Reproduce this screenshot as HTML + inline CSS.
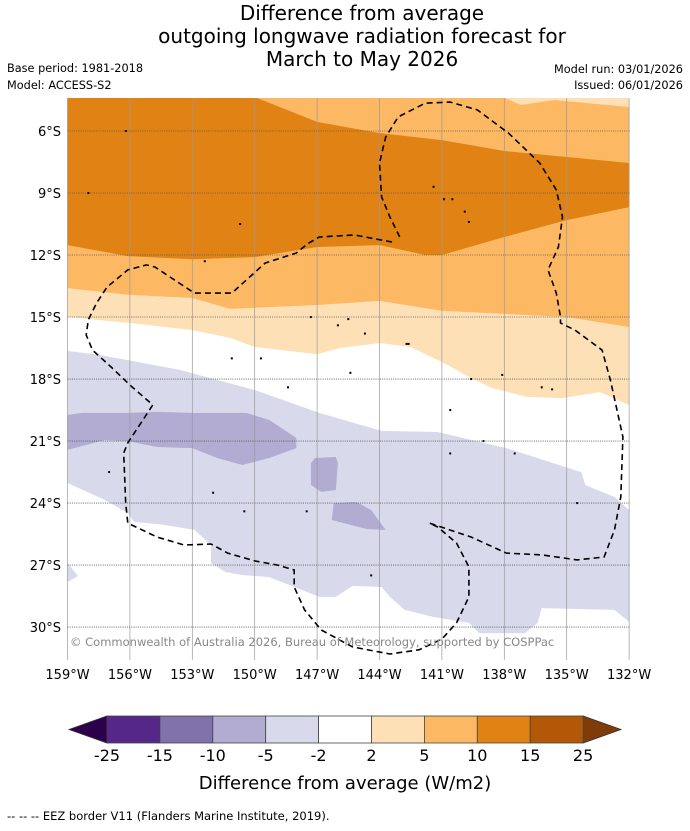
<!DOCTYPE html>
<html><head><meta charset="utf-8">
<style>
html,body{margin:0;padding:0;background:#fff;}
body{width:690px;height:827px;overflow:hidden;font-family:"DejaVu Sans","Liberation Sans",sans-serif;}
svg text{font-family:"DejaVu Sans","Liberation Sans",sans-serif;}
</style></head>
<body>
<svg id="c" width="690" height="827" viewBox="0 0 690 827" xmlns="http://www.w3.org/2000/svg">
<g font-size="20" text-anchor="middle" fill="#000">
<text x="362" y="20">Difference from average</text>
<text x="362" y="43">outgoing longwave radiation forecast for</text>
<text x="362" y="66">March to May 2026</text>
</g>
<text x="7" y="72" font-size="11.3">Base period: 1981-2018</text>
<text x="7" y="89" font-size="11.3">Model: ACCESS-S2</text>
<text x="683" y="73" font-size="11.3" text-anchor="end">Model run: 03/01/2026</text>
<text x="683" y="89" font-size="11.3" text-anchor="end">Issued: 06/01/2026</text>
<defs><clipPath id="mc"><rect x="67.5" y="98" width="562" height="559"/></clipPath></defs>
<g id="map" clip-path="url(#mc)"></g>
<g id="grid"></g>
<g id="eez"></g>
<text x="70" y="646" font-size="11.5" fill="#888">© Commonwealth of Australia 2026, Bureau of Meteorology, supported by COSPPac</text>
<g id="ticks"></g>
<g id="cbar"></g>
<text x="345" y="789" font-size="18" text-anchor="middle">Difference from average (W/m2)</text>
<text x="7" y="820" font-size="11.5">--  --  -- EEZ border V11 (Flanders Marine Institute, 2019).</text>
</svg>
<script>
// data: contour boundaries as [lonW, latS]
const darkOrangeTop=[[159,4.4],[149.9,4.4],[147,5.56],[144,6.1],[141,6.44],[138,6.97],[135,7.26],[132,7.55]];
const darkOrangeBottom=[[132,9.68],[135,10.31],[138,11.13],[141,12.0],[141.8,12.0],[144,11.52],[147,11.61],[150,12.1],[153,12.2],[156.1,12.05],[159,11.52]];
const tanTop=[[159,13.6],[156,13.93],[153,14.08],[151.2,14.6],[147,14.42],[144,14.22],[141,14.7],[138,14.85],[135,15.0],[132,15.48]];
const whiteTop=[[159,15.0],[156,15.29],[153,15.63],[151.2,16.0],[150,16.45],[147,16.8],[145.9,16.5],[144,16.26],[142.5,16.45],[141,17.18],[140.3,17.56],[139.7,17.9],[138.6,18.43],[136.9,18.87],[135.2,18.92],[133.4,18.63],[132,19.26]];
const tanCorner=[[138,4.4],[137.2,4.74],[135.6,4.5],[132,4.84],[132,4.4]];
const lavender=[[159,16.64],[157.4,16.84],[153.6,17.56],[150,18.53],[146.9,19.64],[143.9,20.51],[141.2,20.56],[137.9,21.34],[134.3,22.5],[134.1,23.13],[132.7,23.7],[132,24.34],[131.5,24.34],[131.5,29.75],[132,29.75],[132.7,29.17],[136.2,29.08],[136.4,29.8],[137,30.29],[139.2,30.29],[139.7,29.8],[141.4,29.51],[142.8,29.17],[143.5,28.54],[143.9,28.06],[145.3,28.01],[146.1,28.54],[146.9,28.54],[148,28.1],[149.3,27.58],[150.6,27.48],[151.4,27.34],[152.1,26.9],[152.1,26.03],[152.9,25.3],[154.3,25.06],[155.8,24.9],[156.1,24.48],[157.2,23.85],[159,23.03]];
const lavenderSmall=[[159,26.9],[158.5,27.53],[159,27.82]];
const purpleBand=[[159,19.74],[158.3,19.64],[156.1,19.64],[154.7,19.59],[153,19.64],[150.4,19.64],[149.3,19.98],[148,20.85],[148,21.34],[149.3,21.82],[150.6,22.16],[151.8,21.82],[153,21.34],[154.7,21.29],[156.1,21.0],[157.2,20.95],[159,21.43]];
const purplePatch2=[[147.1,21.82],[146.1,21.77],[146,22.06],[146.1,23.37],[146.8,23.46],[147.3,23.12],[147.3,22.06]];
const purplePatch3=[[146.2,24.0],[145.1,23.95],[144.4,24.34],[143.7,25.3],[144.6,25.26],[146.3,24.82]];
const eezPath=[[143.4,11.37],[145.2,11.03],[146.9,11.13],[147.4,11.42],[148,11.9],[149.5,12.39],[151.1,13.84],[152.9,13.84],[154.8,12.58],[155.2,12.48],[156.1,12.72],[157.1,13.55],[157.6,14.32],[158,15.14],[158.1,15.87],[157.8,16.6],[156.9,17.42],[155.9,18.38],[154.9,19.25],[156.1,21.09],[156.3,21.58],[156.2,24.0],[156.1,24.97],[154.7,25.64],[153.4,26.03],[152.1,25.98],[151.3,26.42],[150,26.8],[148.9,27.0],[148.1,27.24],[148.1,28.06],[147.6,29.17],[146.8,30.14],[145.3,30.96],[143.5,31.3],[142.1,31.1],[141,30.58],[140.3,29.8],[139.7,28.54],[139.7,27.09],[140.3,25.93],[141.2,25.16],[141.6,24.97],[139.6,25.64],[137.9,26.42],[136.2,26.51],[134.5,26.75],[133.2,26.61],[132.7,25.3],[132.4,23.7],[132.3,20.8],[132.9,18.05],[133.3,16.6],[134.6,15.63],[135.3,15.29],[135.3,15.0],[135.5,13.84],[135.9,12.72],[135.4,11.61],[135.2,10.16],[135.5,8.85],[136.3,7.55],[137.8,6.1],[139.3,4.98],[140.6,4.6],[141.8,4.65],[143.1,5.32],[143.7,6.29],[144,7.55],[143.9,9.19],[143.5,10.16],[143,11.18]];
const islands=[[158,9.0],[156.2,6.0],[152.4,12.3],[150.7,10.5],[141.4,8.7],[140.9,9.3],[140.5,9.3],[139.9,9.9],[139.7,10.4],[146,15.4],[144.7,15.8],[142.6,16.3],[142.7,16.3],[151.1,17.0],[149.7,17.0],[145.4,17.7],[139.6,18.0],[138.1,17.8],[136.2,18.4],[135.7,18.5],[148.4,18.4],[140.6,19.5],[139.0,21.0],[140.6,21.6],[137.5,21.6],[134.5,24.0],[144.4,27.5],[147.5,24.4],[152.0,23.5],[150.5,24.4],[157.0,22.5],[145.5,15.1],[147.3,15.0]];
const latTicks=[6,9,12,15,18,21,24,27,30];
const lonTicks=[159,156,153,150,147,144,141,138,135,132];
const cbarLevels=[-25,-15,-10,-5,-2,2,5,10,15,25];
const cbarColors=["#542788","#8073ac","#b2abd2","#d8daeb","#ffffff","#fee0b6","#fdb863","#e08214","#b35806"];

const NS="http://www.w3.org/2000/svg";
const X0=67.5, PXD=20.8, Y0=131, PYD=20.67;
const xs=lon=>X0+(159-lon)*PXD;
const ys=lat=>Y0+(lat-6)*PYD;
function mk(tag,attrs,parent){const e=document.createElementNS(NS,tag);for(const k in attrs)e.setAttribute(k,attrs[k]);parent.appendChild(e);return e;}
const pts=a=>a.map(p=>xs(p[0]).toFixed(1)+","+ys(p[1]).toFixed(1)).join(" ");
const map=document.getElementById('map');
const TOP=4.0, BOT=31.6, W=160, E=131;
let el=mk('rect',{x:0,y:0,width:690,height:700,fill:'#fdb863'},map);


el=mk('polygon',{points:pts([[W,TOP],...darkOrangeTop.slice(1),[E,darkOrangeTop[darkOrangeTop.length-1][1]],[E,darkOrangeBottom[0][1]],...darkOrangeBottom,[W,darkOrangeBottom[darkOrangeBottom.length-1][1]]]),fill:'#e08214'},map);


el=mk('polygon',{points:pts([[W,tanTop[0][1]],...tanTop,[E,tanTop[tanTop.length-1][1]],[E,BOT],[W,BOT]]),fill:'#fee0b6'},map);


el=mk('polygon',{points:pts([...tanCorner,[E,TOP]]),fill:'#fee0b6'},map);


el=mk('polygon',{points:pts([[W,whiteTop[0][1]],...whiteTop,[E,whiteTop[whiteTop.length-1][1]],[E,BOT],[W,BOT]]),fill:'#ffffff'},map);


el=mk('polygon',{points:pts([[W,lavender[0][1]],...lavender,[W,lavender[lavender.length-1][1]]]),fill:'#d8daeb'},map);


el=mk('polygon',{points:pts([[W,26.9],...lavenderSmall,[W,27.82]]),fill:'#d8daeb'},map);


[[purpleBand,'contour-minus10-band'],[purplePatch2,'contour-minus10-patch'],[purplePatch3,'contour-minus10-patch-south']].forEach(([a,n])=>{
  const arr=n==='contour-minus10-band'?[[W,a[0][1]],...a,[W,a[a.length-1][1]]]:a;
  const p=mk('polygon',{points:pts(arr),fill:'#b2abd2'},map);
  
  
});
islands.forEach(p=>{
  const c=mk('rect',{x:xs(p[0])-1,y:ys(p[1])-1,width:2,height:2,fill:'#000'},map);
  
  
});
const grid=document.getElementById('grid');
lonTicks.forEach(l=>{
  const g=mk('line',{x1:xs(l),x2:xs(l),y1:98,y2:660,stroke:'#999','stroke-width':0.7},grid);
  
  
});
latTicks.forEach(l=>{
  const g=mk('line',{x1:67.5,x2:629.5,y1:ys(l),y2:ys(l),stroke:'#555','stroke-width':0.8,'stroke-dasharray':'1,1.2'},grid);
  
  
});
const eez=document.getElementById('eez');
el=mk('polyline',{points:pts(eezPath),fill:'none',stroke:'#000','stroke-width':1.6,'stroke-dasharray':'6,4'},eez);


const ticks=document.getElementById('ticks');
latTicks.forEach(l=>{
  const t=mk('text',{x:61,y:ys(l)+5,'font-size':13,'text-anchor':'end'},ticks);
  t.textContent=l+'°S';
  
  
});
lonTicks.forEach(l=>{
  const t=mk('text',{x:xs(l),y:679,'font-size':13,'text-anchor':'middle'},ticks);
  t.textContent=l+'°W';
  
  
});
const cb=document.getElementById('cbar');
const CX0=107, CW=52.9, CY=716, CH=27;
el=mk('polygon',{points:`${CX0},${CY} ${CX0},${CY+CH} 69,${CY+CH/2}`,fill:'#2d004b',stroke:'#333','stroke-width':0.8},cb);


const CX1=CX0+CW*cbarColors.length;
el=mk('polygon',{points:`${CX1},${CY} ${CX1},${CY+CH} 621,${CY+CH/2}`,fill:'#7f3b08',stroke:'#333','stroke-width':0.8},cb);


cbarColors.forEach((c,i)=>{
  const r=mk('rect',{x:CX0+i*CW,y:CY,width:CW,height:CH,fill:c,stroke:'#444','stroke-width':0.8},cb);
  
  
});
cbarLevels.forEach((v,i)=>{
  const t=mk('text',{x:CX0+i*CW,y:761,'font-size':16,'text-anchor':'middle'},cb);
  t.textContent=v;
  
  
});
</script>
</body></html>
